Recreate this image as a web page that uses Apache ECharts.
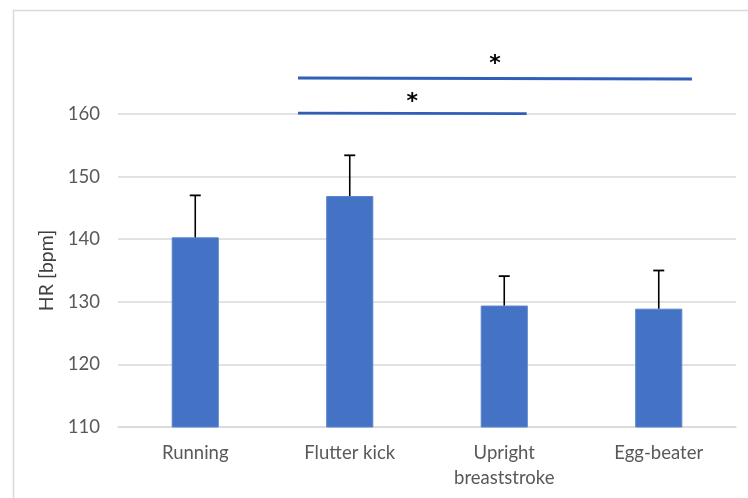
<!DOCTYPE html>
<html>
<head>
<meta charset="utf-8">
<script src="https://cdn.jsdelivr.net/npm/echarts@6/dist/echarts.min.js"></script>
<style>html,body{margin:0;padding:0;background:#fff;}#c{width:748px;height:498px;}</style>
</head>
<body>
<div id="c"></div>
<script>
var categories = ['Running', 'Flutter kick', 'Upright\nbreaststroke', 'Egg-beater'];
var means = [140.3, 146.9, 129.4, 128.9];
var errorTops = [147.0, 153.4, 134.1, 135.0];
var yTicks = [110, 120, 130, 140, 150, 160];
// significance brackets: [fromCategoryPos, toCategoryPos, value]
var sigLines = [[0.665, 2.145, 160.15], [0.665, 3.215, 165.75]];
var sigLabels = ['*', '*'];

var chart = echarts.init(document.getElementById('c'), null, {renderer: 'canvas'});
var font = 'Lato, "Open Sans", sans-serif';

function posToX(api, pos) {
  var i = Math.floor(pos);
  var c = api.coord([i, 0])[0];
  var band = api.size([1, 0])[0];
  return c + (pos - i) * band;
}

chart.setOption({
  animation: false,
  backgroundColor: '#ffffff',
  graphic: [{
    type: 'rect', left: 11, top: 8,
    shape: {width: 760, height: 520},
    style: {fill: 'none', stroke: '#d9d9d9', lineWidth: 1.5},
    z: -10
  }],
  grid: {left: 118, right: 12, top: 114, bottom: 71},
  xAxis: {
    type: 'category',
    data: categories,
    axisLine: {show: true, lineStyle: {color: '#d9d9d9', width: 1.5}},
    axisTick: {show: false},
    axisLabel: {color: '#595959', fontFamily: font, fontSize: 18.5, margin: 14, lineHeight: 25}
  },
  yAxis: {
    type: 'value',
    min: 110, max: 160, interval: 10,
    name: 'HR [bpm]',
    nameLocation: 'middle',
    nameGap: 58,
    nameTextStyle: {color: '#404040', fontFamily: font, fontSize: 19.5},
    axisLine: {show: false},
    axisTick: {show: false},
    axisLabel: {color: '#595959', fontFamily: font, fontSize: 18.5, margin: 18,
      formatter: function (v) { return yTicks.indexOf(v) >= 0 ? String(v) : ''; }},
    splitLine: {lineStyle: {color: '#d9d9d9', width: 1.5}}
  },
  series: [{
    type: 'bar',
    data: means,
    barWidth: '30.5%',
    itemStyle: {color: '#4472C4', borderColor: '#5b84cc', borderWidth: 1},
    z: 2
  }, {
    type: 'custom',
    data: means.map(function (m, i) { return [i, m, errorTops[i]]; }),
    renderItem: function (params, api) {
      var p0 = api.coord([api.value(0), api.value(1)]);
      var p1 = api.coord([api.value(0), api.value(2)]);
      var hw = 5.5;
      return {
        type: 'group',
        children: [
          {type: 'line', shape: {x1: p0[0], y1: p0[1], x2: p1[0], y2: p1[1]}, style: {stroke: '#000', lineWidth: 1.6}},
          {type: 'line', shape: {x1: p1[0] - hw, y1: p1[1], x2: p1[0] + hw, y2: p1[1]}, style: {stroke: '#000', lineWidth: 1.8}}
        ]
      };
    },
    z: 3
  }, {
    type: 'custom',
    clip: false,
    data: sigLines,
    renderItem: function (params, api) {
      var x1 = posToX(api, api.value(0));
      var x2 = posToX(api, api.value(1));
      var y = api.coord([0, api.value(2)])[1];
      var isLong = params.dataIndex === 1;
      return {
        type: 'group',
        children: [
          {type: 'line', shape: {x1: x1, y1: y, x2: x2, y2: y + (isLong ? 1 : 0.5)}, style: {stroke: '#2f5fb8', lineWidth: 2.8}},
          {type: 'text', x: (x1 + x2) / 2, y: y - (isLong ? 14 : 11),
           style: {text: sigLabels[params.dataIndex], fill: '#000', font: 'bold 22px "DejaVu Sans", sans-serif', align: 'center', verticalAlign: 'middle'}}
        ]
      };
    },
    z: 4
  }]
});
</script>
</body>
</html>
